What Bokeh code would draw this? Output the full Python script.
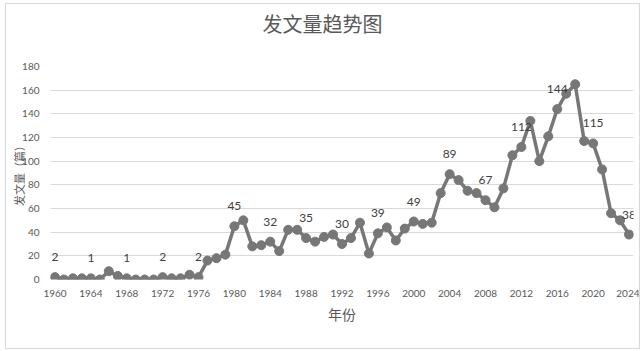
from bokeh.plotting import figure
from bokeh.models import FixedTicker, Range1d, ColumnDataSource, Title, LabelSet
from bokeh.core.properties import value
from bokeh.embed import file_html
from bokeh.resources import INLINE

years = list(range(1960, 2025))
counts = [2, 0, 1, 1, 1, 0, 7, 3, 1, 0,
          0, 0, 2, 1, 1, 4, 2, 16, 18, 21,
          45, 50, 28, 29, 32, 24, 42, 42, 35, 32,
          36, 38, 30, 35, 48, 22, 39, 44, 33, 43,
          49, 47, 48, 73, 89, 84, 75, 73, 67, 61,
          77, 105, 112, 134, 100, 121, 144, 157, 165, 117,
          115, 93, 56, 50, 38]
label_years = list(range(1960, 2025, 4))
label_values = [counts[years.index(y)] for y in label_years]
x_ticks = list(range(1960, 2025, 4))
y_ticks = list(range(0, 181, 20))

title_text = "发文量趋势图"
x_title = "年份"
y_title = "发文量（篇）"

CJK = "Noto Sans CJK SC"
NUM = "Lato"
GRAY = "#595959"
LINE = "#777777"

p = figure(width=635, height=346, output_backend="svg", toolbar_location=None,
           x_range=Range1d(1959.5, 2024.5), y_range=Range1d(0, 180),
           min_border_left=44, min_border_right=8, min_border_top=62, min_border_bottom=71)
p.styles = {"border": "1px solid #d9d9d9", "margin-left": "5px", "margin-top": "3px"}
p.outline_line_color = None
p.background_fill_color = "white"
p.border_fill_color = "white"

# a blank second line lifts the title towards the top of the chart
t = Title(text=title_text + "\n ", align="left", vertical_align="bottom", text_font=CJK,
          text_font_size="20px", text_font_style="normal", text_color=GRAY,
          offset=212, standoff=0)
p.add_layout(t, "above")

p.xgrid.grid_line_color = None
p.ygrid.grid_line_color = "#d9d9d9"
p.ygrid.grid_line_width = 1

p.xaxis.ticker = FixedTicker(ticks=x_ticks)
p.yaxis.ticker = FixedTicker(ticks=y_ticks)
for ax in (p.xaxis[0], p.yaxis[0]):
    ax.axis_line_color = None
    ax.major_tick_line_color = None
    ax.minor_tick_line_color = None
    ax.major_label_text_font = NUM
    ax.major_label_text_font_size = "10px"
    ax.major_label_text_color = GRAY
    ax.axis_label_text_font = CJK
    ax.axis_label_text_font_style = "normal"
    ax.axis_label_text_color = GRAY
p.xaxis.axis_label = x_title
p.yaxis.axis_label = y_title
p.xaxis.axis_label_text_font_size = "14px"
p.yaxis.axis_label_text_font_size = "11px"
p.xaxis.major_label_standoff = 4
p.yaxis.major_label_standoff = 5
p.xaxis.axis_label_standoff = 4
p.yaxis.axis_label_standoff = -8

src = ColumnDataSource(dict(x=years, y=counts))
p.line("x", "y", source=src, line_color=LINE, line_width=3.5)
p.scatter("x", "y", source=src, size=9, fill_color=LINE, line_color=LINE)

lsrc = ColumnDataSource(dict(x=label_years, y=label_values, t=[str(v) for v in label_values]))
labels = LabelSet(x="x", y="y", text="t", source=lsrc, text_font=value(NUM),
                  text_font_size="12px", text_color="#404040", text_align="center",
                  text_baseline="middle", y_offset=20)
p.add_layout(labels)

open("out.html", "w").write(file_html(p, INLINE))
